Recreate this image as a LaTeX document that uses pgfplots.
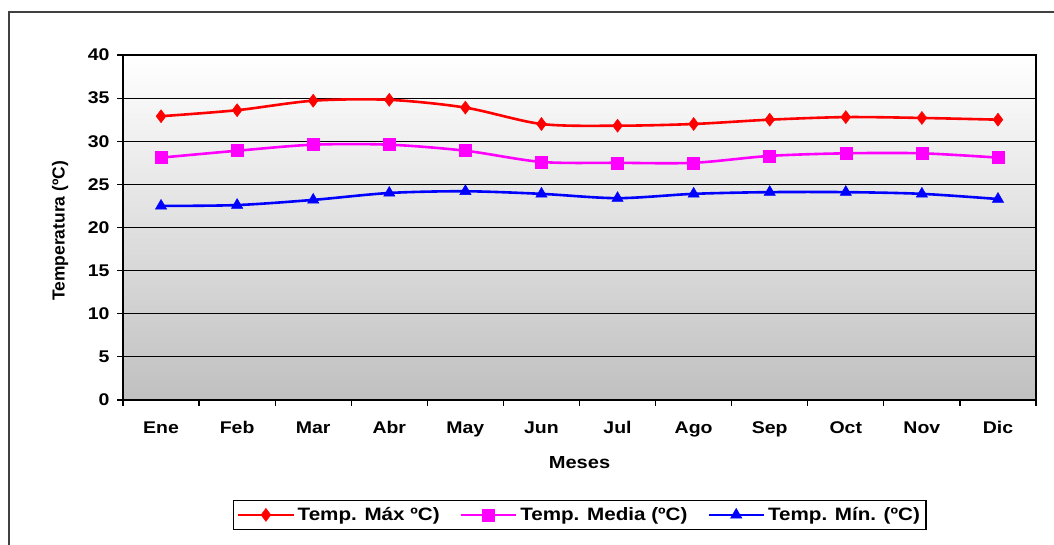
\documentclass[border=0pt]{standalone}
\usepackage{pgfplots}
\pgfplotsset{compat=1.18}
\usepackage{fontspec}
\setmainfont{Liberation Sans}
\newfontfamily\wide{Liberation Sans}[FakeStretch=1.15]
\definecolor{bggray}{RGB}{192,192,192}
\definecolor{mred}{RGB}{255,0,0}
\definecolor{mmag}{RGB}{255,0,255}
\definecolor{mblue}{RGB}{0,0,255}
\begin{document}
\begin{tikzpicture}[x=1bp,y=1bp]
\useasboundingbox (0,0) rectangle (1054,545);
\draw[line width=2bp, black!75] (9,-5) -- (9,533) -- (1060,533);
\begin{axis}[
  at={(123bp,145bp)}, anchor=south west,
  scale only axis, width=913bp, height=345bp,
  xmin=-0.5, xmax=11.5, ymin=0, ymax=40,
  ytick={0,5,...,40},
  xtick={0,...,11},
  xticklabels={Ene,Feb,Mar,Abr,May,Jun,Jul,Ago,Sep,Oct,Nov,Dic},
  minor xtick={-0.5,0.5,...,11.5},
  xtick pos=lower, ytick pos=left,
  major x tick style={draw=none},
  tick align=outside, major tick length=6bp, minor tick length=6bp,
  ymajorgrids, grid style={black, line width=1.2bp},
  axis line style={black, line width=1.2bp},
  every tick/.style={black, line width=1.2bp},
  minor tick style={black, line width=1.2bp},
  axis background/.style={shade, top color=white, bottom color=bggray},
  /pgf/number format/assume math mode=true,
  ticklabel style={font=\wide\bfseries\fontsize{17}{17}\selectfont},
  yticklabel style={xshift=-4bp},
  xticklabel style={text height=12bp, text depth=0bp, yshift=-12bp},
  xlabel={Meses},
  xlabel style={at={(axis description cs:0.5,-0.18)}, anchor=center, font=\wide\bfseries\fontsize{17.5}{17.5}\selectfont},
  ylabel={Temperatura (ºC)},
  ylabel style={at={(axis description cs:-0.069,0.49)}, anchor=center, font=\bfseries\fontsize{17.5}{17.5}\selectfont},
  legend columns=3,
  legend style={at={(0.5,-0.333)}, anchor=center, draw=black, line width=1.2bp,
    font=\wide\bfseries\fontsize{18}{18}\selectfont, inner xsep=4bp, inner ysep=5bp,
    /tikz/every even column/.append style={column sep=18bp},
    /tikz/every odd column/.append style={column sep=1bp}},
  legend image code/.code={\draw[mark repeat=2,mark phase=2,#1] plot coordinates {(0bp,0bp) (27.5bp,0bp) (55bp,0bp)};},
]
\addplot[color=mred, line width=2.6bp, smooth, tension=0.5, mark=diamond*, mark size=6.5bp, mark options={solid, line width=0.5bp}]
 coordinates {(0,32.9) (1,33.6) (2,34.7) (3,34.8) (4,33.9) (5,32.0) (6,31.8) (7,32.0) (8,32.5) (9,32.8) (10,32.7) (11,32.5)};
\addlegendentry{Temp. Máx ºC)}
\addplot[color=mmag, line width=2.6bp, smooth, tension=0.5, mark=square*, mark size=6bp, mark options={solid, line width=0.5bp}]
 coordinates {(0,28.1) (1,28.9) (2,29.6) (3,29.6) (4,28.9) (5,27.6) (6,27.5) (7,27.5) (8,28.3) (9,28.6) (10,28.6) (11,28.1)};
\addlegendentry{Temp. Media (ºC)}
\addplot[color=mblue, line width=2.6bp, smooth, tension=0.5, mark=triangle*, mark size=6.5bp, mark options={solid, line width=0.5bp}]
 coordinates {(0,22.5) (1,22.6) (2,23.2) (3,24.0) (4,24.2) (5,23.9) (6,23.4) (7,23.9) (8,24.1) (9,24.1) (10,23.9) (11,23.3)};
\addlegendentry{Temp. Mín. (ºC)}
\end{axis}
\end{tikzpicture}
\end{document}
